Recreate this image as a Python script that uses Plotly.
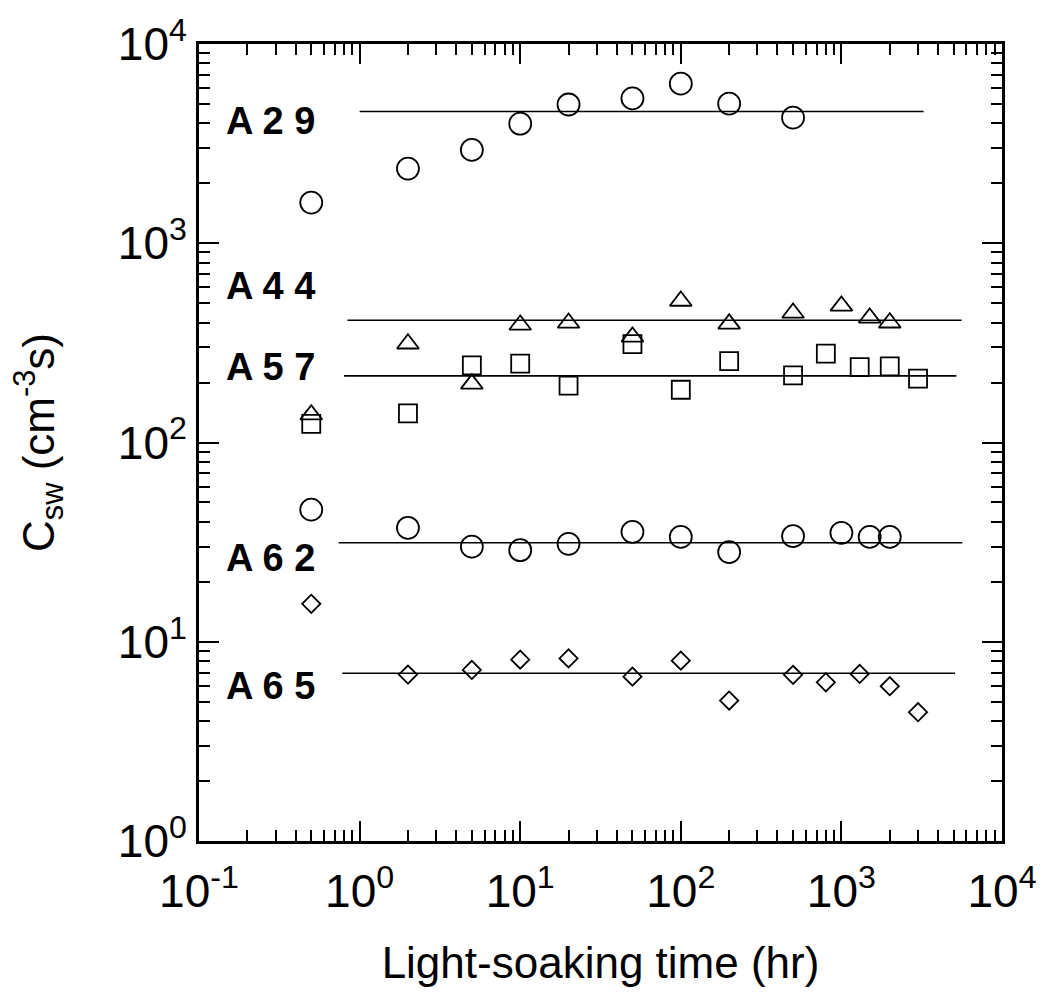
import math
import plotly.graph_objects as go

# ---- data ----
x_a29 = [0.5, 2, 5, 10, 20, 50, 100, 200, 500]
y_a29 = [1600, 2370, 2940, 3980, 4970, 5330, 6320, 5020, 4270]

x_a44 = [0.5, 2, 5, 10, 20, 50, 100, 200, 500, 1000, 1500, 2000]
y_a44 = [138, 313, 197, 389, 398, 339, 513, 394, 447, 485, 422, 399]

x_a57 = [0.5, 2, 5, 10, 20, 50, 100, 200, 500, 800, 1300, 2000, 3000]
y_a57 = [124, 140, 244, 249, 193, 312, 184, 256, 217, 279, 239, 241, 209]

x_a62 = [0.5, 2, 5, 10, 20, 50, 100, 200, 500, 1000, 1500, 2000]
y_a62 = [46, 37.3, 30, 28.8, 31, 35.6, 33.6, 28.2, 33.9, 35.2, 33.6, 33.6]

x_a65 = [0.5, 2, 5, 10, 20, 50, 100, 200, 500, 800, 1300, 2000, 3000]
y_a65 = [15.5, 6.84, 7.22, 8.13, 8.25, 6.68, 8.04, 5.07, 6.82, 6.26, 6.89, 5.98, 4.43]

# saturation levels (horizontal lines): name, x-span, level
fit_names = ["A 2 9", "A 4 4", "A 5 7", "A 6 2", "A 6 5"]
fit_x = [[1, 3250], [0.84, 5600], [0.8, 5200], [0.74, 5660], [0.78, 5100]]
fit_y = [4585, 411, 216, 31.4, 6.95]
label_y = [4100, 610, 240, 26.3, 5.98]

x_tickvals = [0.1, 1, 10, 100, 1000, 10000]
x_ticktext = ["10<sup>-1</sup>", "10<sup>0</sup>", "10<sup>1</sup>",
              "10<sup>2</sup>", "10<sup>3</sup>", "10<sup>4</sup>"]
y_tickvals = [1, 10, 100, 1000, 10000]
y_ticktext = ["10<sup>0</sup>", "10<sup>1</sup>", "10<sup>2</sup>",
              "10<sup>3</sup>", "10<sup>4</sup>"]

FONT = "Liberation Sans, Arial, Helvetica, sans-serif"
fig = go.Figure()

series = [
    (x_a29, y_a29, "circle-open", 22),
    (x_a44, y_a44, "triangle-up-open", 19),
    (x_a57, y_a57, "square-open", 18),
    (x_a62, y_a62, "circle-open", 22),
    (x_a65, y_a65, "diamond-open", 14),
]
for xs, ys, sym, sz in series:
    fig.add_trace(go.Scatter(
        x=xs, y=ys, mode="markers",
        marker=dict(symbol=sym, size=sz, color="black", line=dict(width=1.8, color="black")),
        showlegend=False))

for xs, yv in zip(fit_x, fit_y):
    fig.add_trace(go.Scatter(x=xs, y=[yv, yv], mode="lines",
                             line=dict(color="black", width=1.6), showlegend=False))

for name, ly in zip(fit_names, label_y):
    fig.add_annotation(x=0.031, xref="paper", y=math.log10(ly), yref="y",
                       text="<b>" + name + "</b>", showarrow=False, xanchor="left",
                       yanchor="middle", font=dict(size=38, color="black", family=FONT))

axis_common = dict(
    type="log", showgrid=False, zeroline=False, showline=True, linewidth=2.8,
    linecolor="black", mirror="allticks", ticks="inside", ticklen=20, tickwidth=2,
    tickcolor="black", tickmode="array",
    tickfont=dict(size=46, color="black", family=FONT),
    minor=dict(ticks="inside", ticklen=11, tickwidth=1.8, tickcolor="black", dtick="D1"),
)

fig.update_xaxes(axis_common, range=[-1, 4], tickvals=x_tickvals, ticktext=x_ticktext,
                 ticklabelstandoff=8,
                 title=dict(text="Light-soaking time (hr)", font=dict(size=44, color="black", family=FONT),
                            standoff=32))
fig.update_yaxes(axis_common, range=[0, 4], tickvals=y_tickvals, ticktext=y_ticktext,
                 title=dict(text="C<sub>sw</sub> (cm<sup>-3</sup>s)",
                            font=dict(size=44, color="black", family=FONT), standoff=50))

fig.update_layout(
    width=1049, height=993,
    margin=dict(l=199, r=39, t=42, b=152),
    paper_bgcolor="white", plot_bgcolor="white",
    font=dict(family=FONT, color="black"),
)

fig.write_html("out.html")
